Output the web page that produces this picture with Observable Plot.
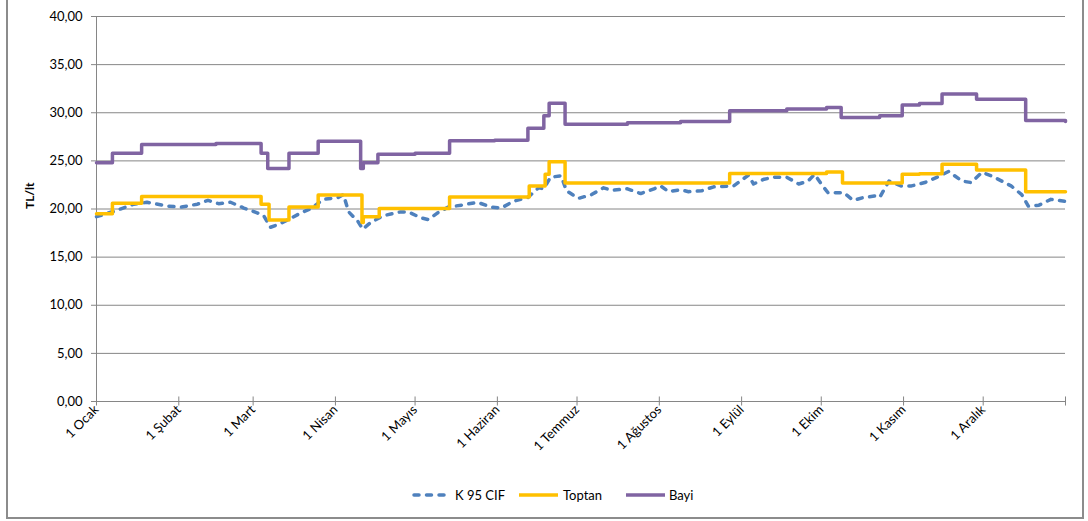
<!DOCTYPE html>
<html>
<head>
<meta charset="utf-8">
<script src="https://cdn.jsdelivr.net/npm/d3@7"></script>
<script src="https://cdn.jsdelivr.net/npm/@observablehq/plot@0.6"></script>
<style>
  html, body { margin: 0; padding: 0; background: #fff; }
  #wrap { position: relative; width: 1088px; height: 521px; overflow: hidden; font-family: Lato, "Open Sans", sans-serif; }
  #frame { position: absolute; left: 6px; top: -4px; width: 1078px; height: 523px; border: 2px solid #8c8c8c; box-sizing: border-box; pointer-events: none; }
  #chart { position: absolute; left: 0; top: 0; }
  .leg { position: absolute; top: 486px; height: 18px; font-size: 13px; line-height: 18px; color: #000; }
  .leg svg { position: absolute; top: 0; }
  .leg span { position: absolute; top: 0; white-space: nowrap; }
</style>
</head>
<body>
<div id="wrap">
  <div id="chart"></div>
  <div id="legend"></div>
  <div id="frame"></div>
</div>
<script>
// ---- data ----
const dayTicks = [0, 31, 59, 90, 120, 151, 181, 212, 243, 273, 304, 334, 365];
const monthLabels = ["1 Ocak", "1 Şubat", "1 Mart", "1 Nisan", "1 Mayıs", "1 Haziran", "1 Temmuz", "1 Ağustos", "1 Eylül", "1 Ekim", "1 Kasım", "1 Aralık", ""];
const yTicks = [0, 5, 10, 15, 20, 25, 30, 35, 40];
const seriesNames = ["K 95 CIF", "Toptan", "Bayi"];
const seriesColors = ["#4F81BD", "#FFC000", "#8064A2"];

const cifDays = [0, 7, 10, 14, 19, 27, 32, 38, 42, 46, 50.5, 55.5, 60.5, 63, 65.5, 68.5, 73, 77, 80.5, 85.5, 91, 93, 95, 98.5, 100.3, 103.3, 108, 114.5, 117.5, 122, 125, 128.5, 132.5, 137.5, 143.5, 148.5, 152.5, 157, 162.5, 166.5, 168.5, 171, 175, 177, 181.5, 186.5, 191, 194, 200, 205, 210, 212.5, 215.5, 220, 223, 228, 232.5, 240, 245.5, 247.5, 251.5, 255.5, 260, 264.5, 268, 270.5, 273, 275.5, 281.5, 285, 289, 293, 295, 298.5, 303, 307, 312, 317, 321, 326, 329.5, 333.5, 337, 341, 344.5, 348.5, 351, 355, 359.5, 365];
const cifValues = [19.2, 19.8, 20.1, 20.5, 20.7, 20.3, 20.2, 20.5, 20.9, 20.55, 20.7, 20.1, 19.6, 19.3, 18.1, 18.4, 19.0, 19.6, 20.0, 21.0, 21.2, 21.5, 19.7, 18.7, 17.9, 18.6, 19.3, 19.7, 19.7, 19.1, 18.9, 19.6, 20.2, 20.4, 20.7, 20.2, 20.1, 20.8, 21.2, 22.2, 22.1, 23.3, 23.45, 21.9, 21.1, 21.5, 22.2, 21.95, 22.1, 21.6, 22.1, 22.4, 21.8, 22.0, 21.8, 21.9, 22.3, 22.4, 23.5, 22.6, 23.1, 23.3, 23.3, 22.6, 22.9, 23.6, 22.6, 21.7, 21.7, 20.9, 21.2, 21.35, 21.2, 22.9, 22.4, 22.4, 22.75, 23.35, 23.9, 22.9, 22.75, 23.8, 23.45, 22.9, 22.4, 21.5, 20.3, 20.4, 21.0, 20.8];

const toptanDays = [0, 6, 17, 62, 65, 72.5, 83.5, 100, 100.5, 106.5, 133, 163, 169, 170.5, 176.5, 238.5, 275, 281, 303.5, 310, 318.5, 331.5, 350, 365];
const toptanValues = [19.5, 20.6, 21.3, 20.5, 18.85, 20.2, 21.45, 18.6, 19.2, 20.05, 21.25, 22.4, 23.6, 24.9, 22.7, 23.7, 23.85, 22.7, 23.6, 23.65, 24.65, 24.05, 21.8, 21.8];

const bayiDays = [0, 6, 17, 45, 62, 64.5, 72.5, 83.5, 99.5, 100.5, 106, 120, 133, 150, 162.5, 168.5, 170.5, 176.5, 200, 220, 238.5, 260, 275, 280.5, 295, 303.5, 310, 318.5, 331.5, 350, 365];
const bayiValues = [24.8, 25.8, 26.7, 26.8, 25.8, 24.2, 25.8, 27.05, 24.2, 24.8, 25.7, 25.8, 27.1, 27.15, 28.4, 29.7, 31.0, 28.8, 28.95, 29.1, 30.2, 30.4, 30.55, 29.5, 29.7, 30.8, 30.95, 31.95, 31.4, 29.2, 29.1];

// ---- tables built from the arrays ----
const cif = cifDays.map((d, i) => ({day: d, value: cifValues[i]}));
const toptan = toptanDays.map((d, i) => ({day: d, value: toptanValues[i]}));
const bayi = bayiDays.map((d, i) => ({day: d, value: bayiValues[i]}));
const labelOf = new Map(dayTicks.map((d, i) => [d, monthLabels[i]]));
const fmt = v => v.toFixed(2).replace(".", ",");
const gray = "#868686";

const chart = Plot.plot({
  width: 1088,
  height: 470,
  marginLeft: 96,
  marginRight: 23,
  marginTop: 16,
  marginBottom: 69,
  x: {domain: [0, 365]},
  y: {domain: [0, 40]},
  style: {fontFamily: "Lato, 'Open Sans', sans-serif", fontSize: "13px", color: "#000", background: "transparent"},
  marks: [
    Plot.ruleY(yTicks.filter(d => d > 0), {stroke: gray, strokeWidth: 1}),
    Plot.ruleX([0], {stroke: gray, strokeWidth: 1}),
    Plot.ruleY([0], {stroke: gray, strokeWidth: 1}),
    Plot.ruleX(dayTicks, {x: d => d, y1: -0.47, y2: 0.47, stroke: gray, strokeWidth: 1}),
    Plot.axisY({ticks: yTicks, tickSize: 5, tickPadding: 9, tickFormat: fmt, label: null, stroke: gray, strokeOpacity: 1, fill: "#000"}),
    Plot.axisX({ticks: dayTicks, tickSize: 0, tickPadding: 6, tickRotate: -45, tickFormat: d => labelOf.get(d), label: null, fill: "#000"}),
    Plot.text(["TL/lt"], {frameAnchor: "left", dx: -66, rotate: -90, fontWeight: "bold", fontSize: 12, fill: "#000"}),
    Plot.line(cif, {x: "day", y: "value", stroke: seriesColors[0], strokeWidth: 3.5, strokeDasharray: "5,7.5", strokeLinecap: "round", strokeLinejoin: "round"}),
    Plot.line(toptan, {x: "day", y: "value", curve: "step-after", stroke: seriesColors[1], strokeWidth: 3.5, strokeLinejoin: "round"}),
    Plot.line(bayi, {x: "day", y: "value", curve: "step-after", stroke: seriesColors[2], strokeWidth: 3.5, strokeLinejoin: "round"})
  ]
});
document.getElementById("chart").appendChild(chart);

// ---- legend ----
const legendPos = [[412, 36, 455], [519, 39, 563], [626, 39, 669]];
const legend = document.getElementById("legend");
seriesNames.forEach((name, i) => {
  const item = document.createElement("div");
  item.className = "leg";
  item.style.left = "0px";
  const [sx, sw, tx] = legendPos[i];
  const dash = i === 0 ? 'stroke-dasharray="5,7.5" stroke-linecap="round"' : '';
  const x1 = i === 0 ? 2 : 0, x2 = i === 0 ? sw - 2 : sw;
  item.innerHTML = `<svg width="${sw}" height="18" style="left:${sx}px"><line x1="${x1}" y1="9" x2="${x2}" y2="9" stroke="${seriesColors[i]}" stroke-width="3.5" ${dash}/></svg><span style="left:${tx}px">${name}</span>`;
  legend.appendChild(item);
});
</script>
</body>
</html>
